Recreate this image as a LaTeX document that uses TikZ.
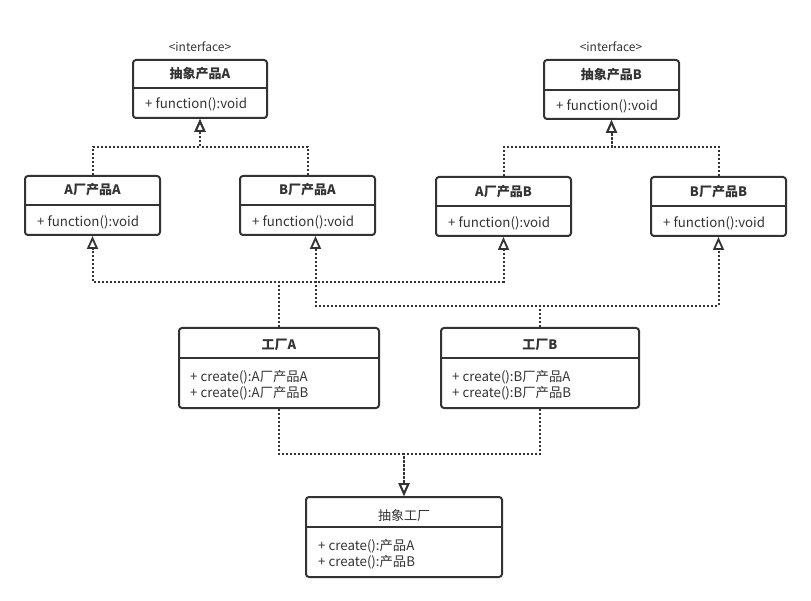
\documentclass[tikz,border=0pt]{standalone}
\usepackage{fontspec}
\setmainfont{Noto Sans CJK SC}
\usetikzlibrary{arrows.meta, positioning, calc}
\definecolor{umlgray}{HTML}{333333}

\tikzset{
  classbox/.style={draw=umlgray, line width=2pt, rounded corners=3pt, inner sep=0pt},
  divider/.style={draw=umlgray, line width=1.5pt},
  classname/.style={font=\fontsize{13}{15}\selectfont\bfseries, text=umlgray, inner sep=0pt},
  plainname/.style={font=\fontsize{13}{15}\selectfont, text=umlgray, inner sep=0pt},
  member/.style={font=\fontsize{13.3}{16}\selectfont, text=umlgray, anchor=west, align=left, inner sep=0pt},
  stereo/.style={font=\fontsize{12}{14}\selectfont, text=umlgray, inner sep=0pt},
  realize/.style={draw=umlgray, line width=2pt, dash pattern=on 2pt off 2pt,
                  -{Triangle[open, length=13pt, width=11pt, line width=1.8pt]}}
}

\begin{document}
\begin{tikzpicture}[x=1pt, y=-1pt]
\useasboundingbox (0,0) rectangle (811,601);

% abstract products
\node[stereo] (absA-s) at (200,47) {<interface>};
\node[classbox, minimum width=134pt, minimum height=58pt] (absA) at (200,89) {};
\draw[divider] (absA.west |- 0,88) -- (absA.east |- 0,88);
\node[classname] (absA-t) at (200,74) {抽象产品A};
\node[member] (absA-m) at (145,104) {+ function():void};

\node[stereo] (absB-s) at (611,47) {<interface>};
\node[classbox, minimum width=135pt, minimum height=59pt] (absB) at (611.5,89.5) {};
\draw[divider] (absB.west |- 0,90) -- (absB.east |- 0,90);
\node[classname] (absB-t) at (611.5,75) {抽象产品B};
\node[member] (absB-m) at (556,106) {+ function():void};

% concrete products
\node[classbox, minimum width=135pt, minimum height=59pt] (aa) at (92.5,205.5) {};
\draw[divider] (aa.west |- 0,205) -- (aa.east |- 0,205);
\node[classname] (aa-t) at (92.5,190) {A厂产品A};
\node[member] (aa-m) at (37,222) {+ function():void};

\node[classbox, minimum width=135pt, minimum height=59pt] (ba) at (307.5,205.5) {};
\draw[divider] (ba.west |- 0,205) -- (ba.east |- 0,205);
\node[classname] (ba-t) at (307.5,190) {B厂产品A};
\node[member] (ba-m) at (252,222) {+ function():void};

\node[classbox, minimum width=135pt, minimum height=59pt] (ab) at (503.5,206.5) {};
\draw[divider] (ab.west |- 0,206) -- (ab.east |- 0,206);
\node[classname] (ab-t) at (503.5,192) {A厂产品B};
\node[member] (ab-m) at (448,223) {+ function():void};

\node[classbox, minimum width=135pt, minimum height=59pt] (bb) at (718.5,206.5) {};
\draw[divider] (bb.west |- 0,206) -- (bb.east |- 0,206);
\node[classname] (bb-t) at (718.5,192) {B厂产品B};
\node[member] (bb-m) at (663,223) {+ function():void};

% factories
\node[classbox, minimum width=200pt, minimum height=80pt] (fa) at (279,368) {};
\draw[divider] (fa.west |- 0,358) -- (fa.east |- 0,358);
\node[classname] (fa-t) at (279,345) {工厂A};
\node[member] (fa-m) at (190,385) {+ create():A厂产品A\\+ create():A厂产品B};

\node[classbox, minimum width=198pt, minimum height=80pt] (fb) at (540,368) {};
\draw[divider] (fb.west |- 0,358) -- (fb.east |- 0,358);
\node[classname] (fb-t) at (540,345) {工厂B};
\node[member] (fb-m) at (452,385) {+ create():B厂产品A\\+ create():B厂产品B};

\node[classbox, minimum width=196pt, minimum height=80pt] (absf) at (404,537) {};
\draw[divider] (absf.west |- 0,527) -- (absf.east |- 0,527);
\node[plainname] (absf-t) at (404,516) {抽象工厂};
\node[member] (absf-m) at (318,554) {+ create():产品A\\+ create():产品B};

% realizations
\draw[realize] (aa.north) -- ++(0,-28) -| (absA.south);
\draw[realize] (ba.north) -- ++(0,-28) -| (absA.south);
\draw[realize] (ab.north) -- ++(0,-29) -| (absB.south);
\draw[realize] (bb.north) -- ++(0,-29) -| (absB.south);

\draw[realize] (fa.north) -- ++(0,-45) -| (aa.south);
\draw[realize] (fa.north) -- ++(0,-45) -| (ab.south);
\draw[realize] (fb.north) -- ++(0,-21) -| ([xshift=8pt]ba.south);
\draw[realize] (fb.north) -- ++(0,-21) -| (bb.south);

\draw[realize] (fa.south) -- ++(0,45) -| (absf.north);
\draw[realize] (fb.south) -- ++(0,45) -| (absf.north);
\end{tikzpicture}
\end{document}
